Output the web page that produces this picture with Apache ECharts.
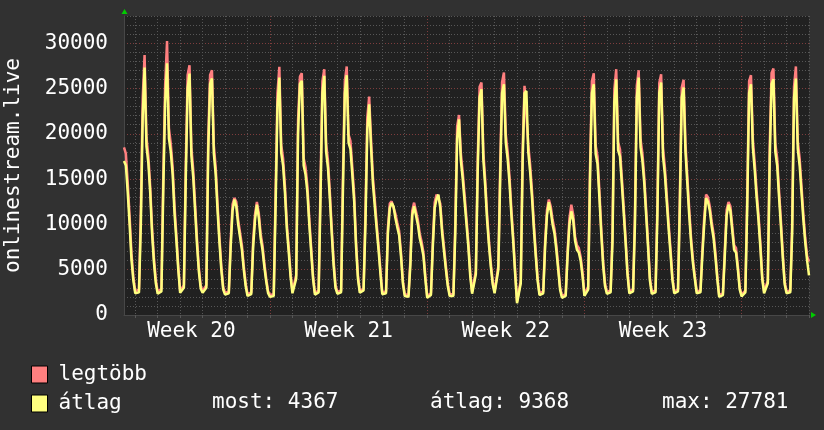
<!DOCTYPE html>
<html>
<head>
<meta charset="utf-8">
<script src="https://cdn.jsdelivr.net/npm/echarts@6/dist/echarts.min.js"></script>
<style>
html, body { margin: 0; padding: 0; background: #313131; }
#chart { width: 824px; height: 430px; }
</style>
</head>
<body>
<div id="chart"></div>
<script>
// 2 hour samples, one line per day; the first block starts on monday noon of week 20
const avgW20 = [
  17000, 16500, 13500, 10000, 6100, 3800,
  2400, 2300, 2500, 10000, 22000, 27320, 18600, 16800, 13500, 9000, 5800, 3500,
  2350, 2300, 2600, 14000, 23500, 27781, 19500, 18000, 15500, 11200, 8200, 5000,
  2450, 2400, 3000, 15000, 25000, 26650, 17600, 15200, 11500, 7800, 4800, 2900,
  2450, 2400, 3000, 18000, 25500, 26100, 17800, 15500, 11500, 8000, 5000, 2800,
  2250, 2200, 2400, 7500, 11500, 12740, 12000, 10000, 8600, 7200, 5000, 3200,
  2100, 2050, 2300, 7500, 10500, 12180, 10800, 8500, 7200, 5300, 3700, 2400
];
const avgW21 = [
  2000, 1950, 2100, 12000, 23000, 26210, 17900, 16500, 13500, 9500, 7000, 4200,
  2400, 2350, 4000, 20000, 25500, 25840, 16500, 15500, 13500, 10000, 7000, 4000,
  2250, 2200, 2500, 13000, 24500, 26390, 18000, 16200, 12800, 9000, 5500, 3000,
  2350, 2300, 2500, 14000, 24500, 26470, 19000, 18300, 15500, 12500, 7500, 4000,
  2450, 2400, 2700, 10000, 20500, 23260, 18500, 14500, 12000, 9500, 7200, 4600,
  2300, 2200, 2400, 9000, 11800, 12370, 12000, 10700, 9700, 8800, 6500, 3500,
  2100, 1950, 2000, 5500, 11000, 12000, 12180, 10000, 8500, 7600, 6500, 4000
];
const avgW22 = [
  1900, 1850, 2200, 7500, 11800, 12800, 13290, 11800, 9000, 7000, 5000, 3200,
  2100, 2000, 2100, 9000, 19500, 21590, 17000, 15000, 12500, 10000, 7500, 4300,
  2350, 2300, 4500, 16000, 24000, 24920, 17200, 14200, 10500, 7700, 5300, 3400,
  2400, 2300, 5000, 15000, 24500, 25470, 19000, 17200, 14500, 11000, 8000, 4500,
  1300, 1200, 3500, 17000, 24500, 24730, 18000, 15800, 13000, 9500, 6500, 3800,
  2200, 2150, 2400, 7500, 11000, 12440, 11500, 10000, 9000, 7200, 5000, 2800,
  1900, 1850, 2100, 6500, 10000, 11440, 10500, 8200, 7200, 6900, 6000, 4300
];
const avgW23 = [
  2100, 2000, 2800, 15000, 24500, 25470, 17800, 16700, 13000, 9000, 5500, 3200,
  2350, 2300, 2500, 8000, 23500, 26020, 18200, 17500, 14500, 11300, 8000, 4500,
  2400, 2350, 2600, 10000, 24000, 26210, 18500, 17000, 14500, 11000, 7500, 3800,
  2350, 2300, 2500, 11000, 24500, 25660, 17500, 15500, 12500, 9500, 6800, 3900,
  2400, 2350, 2600, 12000, 24000, 25100, 18000, 14500, 11000, 8000, 5700, 4000,
  2400, 2350, 2500, 6500, 10000, 12900, 12500, 11500, 9800, 8500, 6400, 4000,
  2000, 1950, 2200, 6500, 11000, 12180, 11500, 9300, 7200, 6900, 5000, 2800
];
const avgW24 = [
  2050, 2000, 2500, 12000, 24500, 25470, 18500, 16000, 13000, 10500, 7500, 4000,
  2400, 2350, 3500, 17000, 25500, 26020, 18000, 16500, 13000, 9800, 6300, 3400,
  2400, 2350, 2500, 9000, 24000, 26100, 18300, 16500, 13500, 10500, 8000, 6000,
  4367
];

const maxW20 = [
  18500, 17800, 14600, 10900, 6800, 4200,
  2600, 2500, 2800, 11500, 24000, 28680, 19600, 17600, 14200, 9600, 6300, 3900,
  2550, 2500, 2900, 15500, 25500, 30230, 20600, 18900, 16300, 12000, 8800, 5400,
  2650, 2600, 3300, 16500, 26500, 27570, 18500, 16000, 12200, 8400, 5200, 3200,
  2650, 2600, 3300, 19500, 26500, 27020, 18700, 16300, 12200, 8600, 5400, 3100,
  2450, 2400, 2600, 8200, 12200, 12920, 12500, 10500, 9100, 7700, 5400, 3500,
  2300, 2250, 2500, 8200, 11100, 12480, 11300, 9000, 7700, 5700, 4000, 2600
];
const maxW21 = [
  2200, 2150, 2300, 13500, 24500, 27390, 18800, 17300, 14200, 10100, 7500, 4600,
  2600, 2550, 4400, 21500, 26300, 26690, 17300, 16300, 14200, 10600, 7500, 4400,
  2450, 2400, 2700, 14500, 25800, 27130, 18900, 17000, 13500, 9600, 6000, 3300,
  2550, 2500, 2700, 15500, 25800, 27430, 19900, 19200, 16300, 13200, 8000, 4400,
  2650, 2600, 2900, 11200, 21800, 24110, 19400, 15200, 12700, 10100, 7700, 5000,
  2500, 2400, 2600, 9600, 12300, 12550, 12500, 11200, 10200, 9300, 6900, 3800,
  2300, 2150, 2200, 6000, 11500, 12400, 12550, 10500, 9000, 8100, 6900, 4300
];
const maxW22 = [
  2100, 2050, 2400, 8100, 12400, 13300, 13470, 12300, 9500, 7500, 5400, 3500,
  2300, 2200, 2300, 10000, 20800, 22070, 17800, 15700, 13200, 10600, 8000, 4700,
  2550, 2500, 4900, 17300, 25200, 25660, 18000, 14900, 11100, 8200, 5700, 3700,
  2600, 2500, 5400, 16300, 25700, 26760, 19900, 18000, 15200, 11600, 8500, 4900,
  1500, 1400, 3800, 18300, 25300, 25470, 18800, 16600, 13700, 10100, 7000, 4100,
  2400, 2350, 2600, 8100, 11600, 12740, 12000, 10500, 9500, 7700, 5400, 3100,
  2100, 2050, 2300, 7000, 10700, 12180, 11100, 8700, 7700, 7400, 6400, 4700
];
const maxW23 = [
  2300, 2200, 3100, 16300, 25800, 26690, 18700, 17500, 13700, 9600, 6000, 3500,
  2550, 2500, 2700, 9000, 24900, 27130, 19100, 18300, 15200, 11900, 8500, 4900,
  2600, 2550, 2800, 11000, 25300, 27020, 19400, 17800, 15200, 11600, 8000, 4100,
  2550, 2500, 2700, 12200, 25600, 26580, 18400, 16300, 13200, 10100, 7300, 4200,
  2600, 2550, 2800, 13200, 25100, 25950, 18900, 15300, 11700, 8500, 6100, 4300,
  2600, 2550, 2700, 7100, 10700, 13290, 13000, 12000, 10300, 9000, 6900, 4300,
  2200, 2150, 2400, 7100, 11600, 12480, 12000, 9800, 7700, 7400, 5400, 3000
];
const maxW24 = [
  2250, 2200, 2700, 13300, 25800, 26470, 19400, 16800, 13700, 11100, 8000, 4300,
  2600, 2550, 3800, 18500, 26700, 27200, 18900, 17300, 13700, 10400, 6800, 3700,
  2600, 2550, 2700, 10000, 25200, 27430, 19200, 17300, 14200, 11100, 8500, 6500,
  5900
];

const weekLabels = ['Week 20', 'Week 21', 'Week 22', 'Week 23'];
const seriesNames = ['legtöbb', 'átlag'];
const statLabels = ['most: 4367', 'átlag: 9368', 'max: 27781'];
const yTitle = 'onlinestream.live';

const STEP_H = 2;
const avgData = [].concat(avgW20, avgW21, avgW22, avgW23, avgW24);
const maxData = [].concat(maxW20, maxW21, maxW22, maxW23, maxW24);
// hours since the left edge of the graph
const hours = avgData.map((_, i) => i * STEP_H);

const isDayLine = (i) => (hours[i] - 12) % 24 === 0;
const isWeekMid = (i) => (hours[i] - 72) % 168 === 0;

const FONT = 'DejaVu Sans Mono';
const PINK = '#ff7f7f';
const YELLOW = '#ffff7f';
const GRAY = '#575757';
const RED = '#7e3d3d';
const dots = [1, 2];

const chart = echarts.init(document.getElementById('chart'));

const option = {
  backgroundColor: '#313131',
  animation: false,
  grid: {
    left: 124, right: 15, top: 16, bottom: 115,
    containLabel: false,
    outerBoundsMode: 'none',
    show: true, backgroundColor: '#212121', borderWidth: 0
  },
  legend: {
    orient: 'vertical',
    left: 31, top: 364,
    padding: 0,
    itemWidth: 16, itemHeight: 17, itemGap: 8,
    icon: 'rect',
    selectedMode: false,
    data: seriesNames,
    itemStyle: { borderColor: '#000', borderWidth: 1 },
    textStyle: { color: '#fff', fontFamily: FONT, fontSize: 21, padding: [0, 0, 0, 6] }
  },
  xAxis: {
    type: 'category',
    data: hours,
    boundaryGap: false,
    axisLine: { lineStyle: { color: '#474747' } },
    axisTick: { show: true, interval: isDayLine, length: 3, lineStyle: { color: '#575757' } },
    axisLabel: {
      interval: isWeekMid,
      formatter: (v, i) => weekLabels[(hours[i] - 72) / 168] || '',
      color: '#fff', fontFamily: FONT, fontSize: 21, margin: 6
    },
    splitLine: {
      show: true,
      interval: isDayLine,
      lineStyle: { color: [GRAY, GRAY, GRAY, GRAY, GRAY, GRAY, RED], type: dots }
    }
  },
  yAxis: {
    type: 'value',
    min: 0, max: 33000, interval: 1000,
    name: yTitle,
    nameLocation: 'middle',
    nameRotate: 90,
    nameGap: 100,
    nameTextStyle: { color: '#fff', fontFamily: FONT, fontSize: 21 },
    axisLine: { show: true, lineStyle: { color: '#474747' } },
    axisTick: { show: false },
    axisLabel: {
      formatter: (v) => (v % 5000 === 0 ? String(v) : ''),
      color: '#fff', fontFamily: FONT, fontSize: 21, margin: 16
    },
    splitLine: {
      lineStyle: { color: [RED, GRAY, GRAY, GRAY, GRAY], type: dots }
    }
  },
  series: [
    {
      name: seriesNames[0],
      type: 'line',
      data: maxData,
      showSymbol: false,
      symbol: 'none',
      silent: true,
      itemStyle: { color: PINK },
      lineStyle: { color: PINK, width: 2.5 },
      z: 2
    },
    {
      name: seriesNames[1],
      type: 'line',
      data: avgData,
      showSymbol: false,
      symbol: 'none',
      silent: true,
      itemStyle: { color: YELLOW },
      lineStyle: { color: YELLOW, width: 2.5 },
      z: 3
    }
  ],
  graphic: [
    { type: 'polygon', shape: { points: [[121.5, 14], [127.5, 14], [124.5, 9]] }, style: { fill: '#00cc00' } },
    { type: 'polygon', shape: { points: [[811, 312], [811, 318], [816, 315]] }, style: { fill: '#00cc00' } },
    { type: 'text', left: 212, top: 392, style: { text: statLabels[0], fill: '#fff', font: '21px "DejaVu Sans Mono"' } },
    { type: 'text', left: 430, top: 392, style: { text: statLabels[1], fill: '#fff', font: '21px "DejaVu Sans Mono"' } },
    { type: 'text', left: 662, top: 392, style: { text: statLabels[2], fill: '#fff', font: '21px "DejaVu Sans Mono"' } }
  ]
};

chart.setOption(option);
</script>
</body>
</html>
